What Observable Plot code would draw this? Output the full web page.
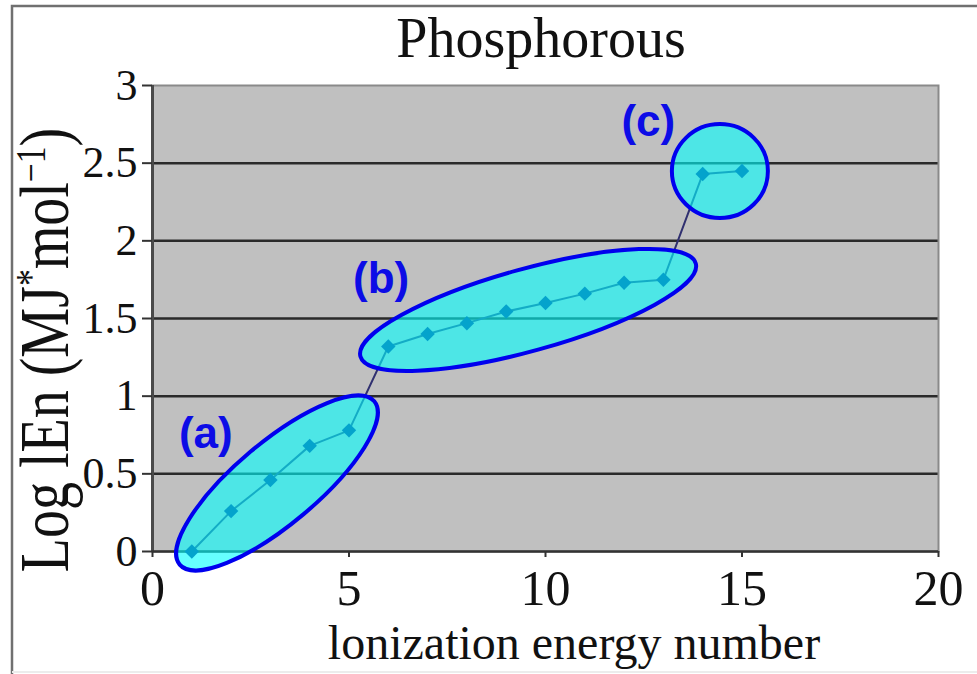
<!DOCTYPE html>
<html><head><meta charset="utf-8">
<script src="https://cdn.jsdelivr.net/npm/d3@7"></script>
<script src="https://cdn.jsdelivr.net/npm/@observablehq/plot@0.6"></script>
<style>html,body{margin:0;padding:0;background:#fff;} svg{display:block}</style>
</head><body><div id="chart"></div>
<script>
// ---- data ----
const ionizationNumber = [1, 2, 3, 4, 5, 6, 7, 8, 9, 10, 11, 12, 13, 14, 15];
const logIE = [0.00, 0.26, 0.46, 0.68, 0.78, 1.32, 1.40, 1.47, 1.545, 1.60, 1.66, 1.73, 1.75, 2.43, 2.45];
const xTickValues = [0, 5, 10, 15, 20];
const xTickLabels = ["0", "5", "10", "15", "20"];
const yTickValues = [0, 0.5, 1, 1.5, 2, 2.5, 3];
const yTickLabels = ["0", "0.5", "1", "1.5", "2", "2.5", "3"];
const groupNames = ["(a)", "(b)", "(c)"];
const chartTitle = "Phosphorous";
const xTitle = "lonization energy number";

// ---- annotation placement (data-space centres, pixel sizes) ----
const groupEllipses = [
  {cx: 3.18, cy: 0.438, rx: 127, ry: 41, angle: -40},
  {cx: 9.57, cy: 1.552, rx: 174, ry: 41, angle: -15.5},
  {cx: 14.45, cy: 2.446, rx: 48, ry: 47, angle: 0}
];
const groupLabelPos = [
  {x: 1.37, y: 0.663},
  {x: 5.83, y: 1.664},
  {x: 12.63, y: 2.672}
];

const table = ionizationNumber.map((n, i) => ({n, v: logIE[i]}));
const serif = "'Liberation Serif', 'Times New Roman', serif";

const plot = Plot.plot({
  width: 977, height: 674,
  marginLeft: 152, marginRight: 39, marginTop: 85, marginBottom: 123,
  x: {domain: [0, 20]},
  y: {domain: [0, 3]},
  style: {fontFamily: serif, background: "white", color: "#111", overflow: "visible"},
  marks: [
    Plot.frame({fill: "#c0c0c0", stroke: null}),
    Plot.ruleY(yTickValues.filter(d => d > 0 && d < 3), {stroke: "#2a2a2a", strokeWidth: 2.5}),
    Plot.frame({stroke: "#8a8a8a", strokeWidth: 2}),
    Plot.ruleX([0], {stroke: "#4a4a4a", strokeWidth: 3}),
    Plot.ruleY([0], {stroke: "#333", strokeWidth: 2.5}),
    Plot.axisY({ticks: yTickValues, tickFormat: d => yTickLabels[yTickValues.indexOf(d)],
      tickSize: 10, tickPadding: 5, fontSize: 44, label: null, stroke: "#333", strokeWidth: 2}),
    Plot.axisX({ticks: xTickValues, tickFormat: d => xTickLabels[xTickValues.indexOf(d)],
      tickSize: 6, tickPadding: 12, fontSize: 50, label: null, stroke: "#333", strokeWidth: 2}),
    Plot.line(table, {x: "n", y: "v", stroke: "#303070", strokeWidth: 2}),
    Plot.dot(table, {x: "n", y: "v", symbol: "diamond2", r: 6.5, fill: "#0a1a80", stroke: null})
  ]
});

const svg = d3.select(plot);
const sx = plot.scale("x"), sy = plot.scale("y");

// outer frame
svg.append("path").attr("d", "M12,674 L12,6 L977,6").attr("fill", "none")
  .attr("stroke", "#707070").attr("stroke-width", 2.5);
svg.append("line").attr("x1", 12).attr("x2", 977).attr("y1", 672).attr("y2", 672)
  .attr("stroke", "#ececec").attr("stroke-width", 2);

// ellipses
groupEllipses.forEach(e => {
  const px = sx.apply(e.cx), py = sy.apply(e.cy);
  svg.append("ellipse")
    .attr("cx", 0).attr("cy", 0).attr("rx", e.rx).attr("ry", e.ry)
    .attr("transform", `translate(${px},${py}) rotate(${e.angle})`)
    .attr("fill", "#00ffff").attr("fill-opacity", 0.6)
    .attr("stroke", "#0000ee").attr("stroke-width", 4);
});

// labels
groupNames.forEach((name, i) => {
  svg.append("text")
    .attr("x", sx.apply(groupLabelPos[i].x)).attr("y", sy.apply(groupLabelPos[i].y))
    .attr("text-anchor", "middle")
    .attr("font-family", "'Liberation Sans', Arial, sans-serif")
    .attr("font-weight", "bold").attr("font-size", 44)
    .attr("fill", "#0c0ce6").text(name);
});

// title
svg.append("text").attr("x", 541).attr("y", 57).attr("text-anchor", "middle")
  .attr("font-family", serif).attr("font-size", 56).attr("fill", "#111").text(chartTitle);

// x title
svg.append("text").attr("x", 574).attr("y", 659).attr("text-anchor", "middle")
  .attr("font-family", serif).attr("font-size", 48).attr("fill", "#111").text(xTitle);

// y title
const yt = svg.append("text")
  .attr("transform", "translate(68,350) rotate(-90) scale(1,1.25)")
  .attr("text-anchor", "middle")
  .attr("font-family", serif).attr("font-size", 56).attr("fill", "#111");
yt.append("tspan").text("Log lEn (MJ");
yt.append("tspan").attr("baseline-shift", "super").attr("font-size", "60%").text("*");
yt.append("tspan").text("mol");
yt.append("tspan").attr("baseline-shift", "super").attr("font-size", "60%").text("\u22121");
yt.append("tspan").text(")");

document.getElementById("chart").appendChild(plot);
</script>
</body></html>
